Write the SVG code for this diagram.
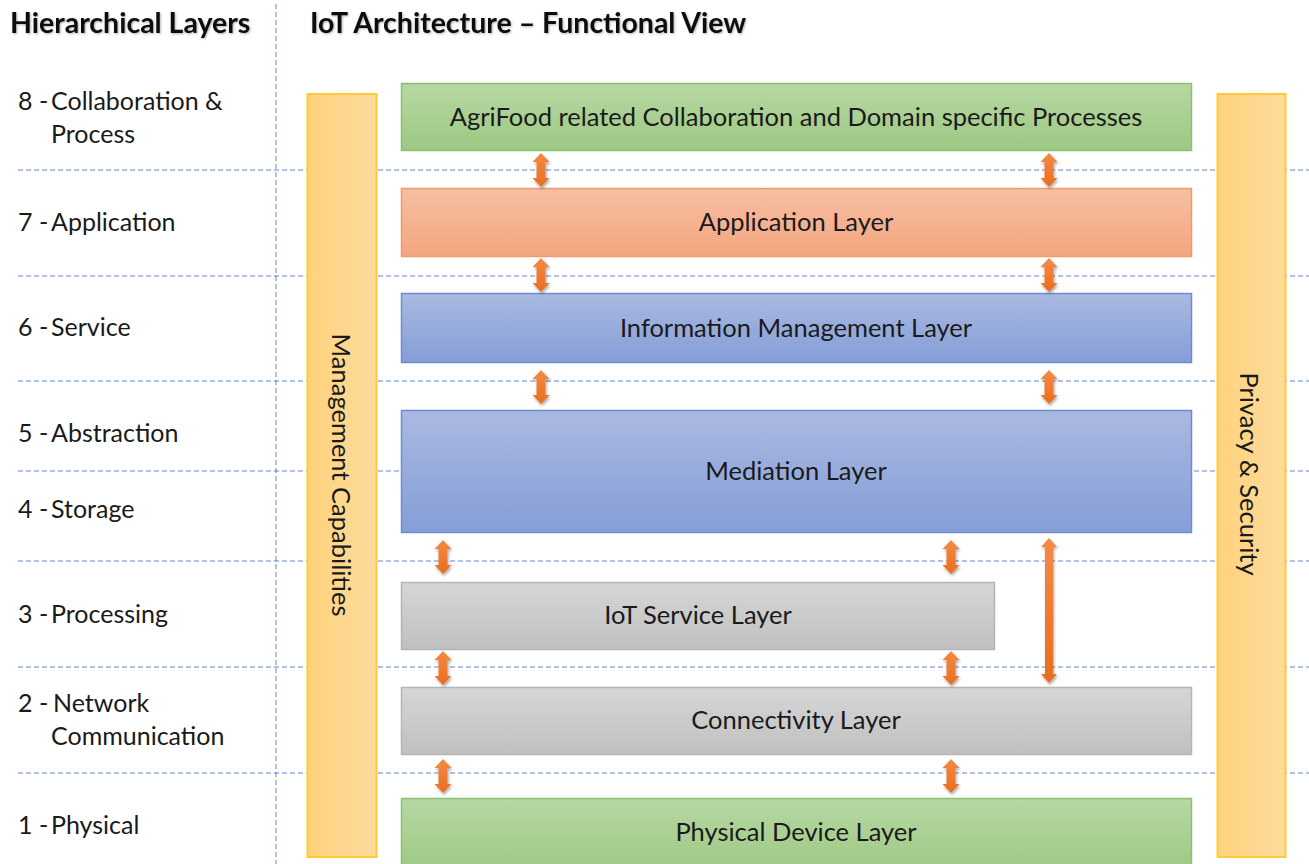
<svg xmlns="http://www.w3.org/2000/svg" width="1309" height="864" viewBox="0 0 1309 864">
<defs>
<linearGradient id="gGreen" x1="0" y1="0" x2="0" y2="1"><stop offset="0" stop-color="#B6D8A3"/><stop offset="1" stop-color="#9DC882"/></linearGradient>
<linearGradient id="gOrange" x1="0" y1="0" x2="0" y2="1"><stop offset="0" stop-color="#F6BFA3"/><stop offset="1" stop-color="#F3A57F"/></linearGradient>
<linearGradient id="gBlue" x1="0" y1="0" x2="0" y2="1"><stop offset="0" stop-color="#A9B9E1"/><stop offset="1" stop-color="#859ED8"/></linearGradient>
<linearGradient id="gGray" x1="0" y1="0" x2="0" y2="1"><stop offset="0" stop-color="#D6D6D6"/><stop offset="1" stop-color="#C0C0C0"/></linearGradient>
<linearGradient id="gBar" x1="0" y1="0" x2="1" y2="0"><stop offset="0" stop-color="#FED37D"/><stop offset="1" stop-color="#FEDB9C"/></linearGradient>
<linearGradient id="gArrow" x1="0" y1="0" x2="0" y2="1"><stop offset="0" stop-color="#F48A45"/><stop offset="1" stop-color="#E96D1F"/></linearGradient>
<filter id="sh" x="-50%" y="-20%" width="200%" height="140%"><feDropShadow dx="1" dy="2" stdDeviation="1.5" flood-color="#000" flood-opacity="0.35"/></filter>
<filter id="tsh" x="-5%" y="-30%" width="110%" height="160%"><feDropShadow dx="1" dy="1" stdDeviation="1" flood-color="#000" flood-opacity="0.3"/></filter>
<path id="arr" d="M0,-17 L8.5,-8 L4.5,-8 L4.5,8 L8.5,8 L0,17 L-8.5,8 L-4.5,8 L-4.5,-8 L-8.5,-8 Z"/>
</defs>
<style>
.dash{stroke:#4472C4;stroke-width:1;stroke-dasharray:5,3;fill:none;opacity:0.85}
.lbl{font-family:Lato,"Open Sans",sans-serif;font-size:25px;fill:#1a1a1a}
.hdr{font-family:Lato,"Open Sans",sans-serif;font-size:28.5px;font-weight:bold;fill:#111}
.box text,.bar text{font-family:Lato,"Open Sans",sans-serif;font-size:25.5px;fill:#1a1a1a;text-anchor:middle}
.arrow{fill:url(#gArrow);filter:url(#sh)}
</style>

<g id="grid">
<line class="dash" x1="276" y1="4" x2="276" y2="864"/>
<line class="dash" x1="18" y1="170" x2="1309" y2="170"/>
<line class="dash" x1="18" y1="276" x2="1309" y2="276"/>
<line class="dash" x1="18" y1="381" x2="1309" y2="381"/>
<line class="dash" x1="18" y1="471" x2="1309" y2="471"/>
<line class="dash" x1="18" y1="561" x2="1309" y2="561"/>
<line class="dash" x1="18" y1="667" x2="1309" y2="667"/>
<line class="dash" x1="18" y1="773" x2="1309" y2="773"/>
</g>

<g id="headers">
<text class="hdr" x="10" y="33" filter="url(#tsh)">Hierarchical Layers</text>
<text class="hdr" x="310" y="33" filter="url(#tsh)">IoT Architecture – Functional View</text>
</g>

<g id="levels">
<text class="lbl" x="18" y="110">8 -</text><text class="lbl" x="51" y="110">Collaboration &amp;</text>
<text class="lbl" x="51" y="143">Process</text>
<text class="lbl" x="18" y="231">7 -</text><text class="lbl" x="51" y="231">Application</text>
<text class="lbl" x="18" y="336">6 -</text><text class="lbl" x="51" y="336">Service</text>
<text class="lbl" x="18" y="442">5 -</text><text class="lbl" x="51" y="442">Abstraction</text>
<text class="lbl" x="18" y="518">4 -</text><text class="lbl" x="51" y="518">Storage</text>
<text class="lbl" x="18" y="623">3 -</text><text class="lbl" x="51" y="623">Processing</text>
<text class="lbl" x="18" y="712">2 -</text><text class="lbl" x="53" y="712">Network</text>
<text class="lbl" x="51" y="745">Communication</text>
<text class="lbl" x="18" y="834">1 -</text><text class="lbl" x="51" y="834">Physical</text>
</g>

<g id="mgmt" class="bar">
<rect x="307.5" y="94" width="69" height="763" fill="url(#gBar)" stroke="#FFC937" stroke-width="2"/>
<text transform="translate(332,475) rotate(90)">Management Capabilities</text>
</g>
<g id="privacy" class="bar">
<rect x="1217.5" y="94" width="68" height="763" fill="url(#gBar)" stroke="#FFC937" stroke-width="2"/>
<text transform="translate(1240,474) rotate(90)">Privacy &amp; Security</text>
</g>

<g id="agrifood" class="box">
<rect x="401.5" y="83.5" width="790" height="67" fill="url(#gGreen)" stroke="#8DBF70" stroke-width="1.5"/>
<text x="796" y="126">AgriFood related Collaboration and Domain specific Processes</text>
</g>
<g id="application" class="box">
<rect x="401.5" y="188.5" width="790" height="68" fill="url(#gOrange)" stroke="#F09A6A" stroke-width="1.5"/>
<text x="796" y="231">Application Layer</text>
</g>
<g id="infomgmt" class="box">
<rect x="401.5" y="293.5" width="790" height="69" fill="url(#gBlue)" stroke="#6C8DCD" stroke-width="1.5"/>
<text x="796" y="337">Information Management Layer</text>
</g>
<g id="mediation" class="box">
<rect x="401.5" y="410.5" width="790" height="122" fill="url(#gBlue)" stroke="#6C8DCD" stroke-width="1.5"/>
<text x="796" y="480">Mediation Layer</text>
</g>
<g id="iotservice" class="box">
<rect x="401.5" y="582.5" width="593" height="67" fill="url(#gGray)" stroke="#B5B5B5" stroke-width="1.5"/>
<text x="698" y="624">IoT Service Layer</text>
</g>
<g id="connectivity" class="box">
<rect x="401.5" y="687.5" width="790" height="67" fill="url(#gGray)" stroke="#B5B5B5" stroke-width="1.5"/>
<text x="796" y="729">Connectivity Layer</text>
</g>
<g id="physical" class="box">
<rect x="401.5" y="798.5" width="790" height="75" fill="url(#gGreen)" stroke="#8DBF70" stroke-width="1.5"/>
<text x="796" y="841">Physical Device Layer</text>
</g>

<g id="connectors">
<use href="#arr" class="arrow" x="541" y="170"/>
<use href="#arr" class="arrow" x="1049" y="170"/>
<use href="#arr" class="arrow" x="541" y="275"/>
<use href="#arr" class="arrow" x="1049" y="275"/>
<use href="#arr" class="arrow" x="541" y="387"/>
<use href="#arr" class="arrow" x="1049" y="387"/>
<use href="#arr" class="arrow" x="443" y="557"/>
<use href="#arr" class="arrow" x="951" y="557"/>
<use href="#arr" class="arrow" x="443" y="668"/>
<use href="#arr" class="arrow" x="951" y="668"/>
<use href="#arr" class="arrow" x="443" y="776"/>
<use href="#arr" class="arrow" x="951" y="776"/>
<path class="arrow" d="M1049,538 L1057,547 L1053,547 L1053,674 L1057,674 L1049,683 L1041,674 L1045,674 L1045,547 L1041,547 Z"/>
</g>
</svg>
